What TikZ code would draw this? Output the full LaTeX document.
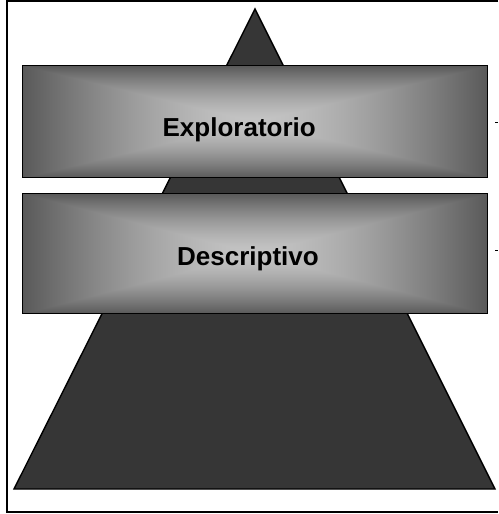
\documentclass[tikz,border=0pt]{standalone}
\usepackage{fontspec}
\setsansfont{Liberation Sans}
\usetikzlibrary{positioning}
\definecolor{pyramid}{rgb}{0.21, 0.21, 0.21}
\pgfdeclarefunctionalshading{barshade}{\pgfpoint{-50bp}{-50bp}}{\pgfpoint{50bp}{50bp}}{}{
  abs 25 div exch abs 25 div
  2 copy lt {exch} if pop
  dup 1 gt {pop 1} if
  dup sqrt mul
  0.42 mul 0.77 exch sub dup dup
}

\begin{document}
\begin{tikzpicture}[x=1pt, y=-1pt,
		frame/.style={line width=1.4pt},
		pyramidShape/.style={fill=pyramid, draw=black, line width=1.4pt},
		bar/.style={draw=black, line width=1.4pt, shade, shading=barshade, minimum width=465pt, inner sep=0pt},
		barText/.style={font=\sffamily\bfseries\fontsize{26}{30}\selectfont, inner sep=0pt},
		tick/.style={line width=1pt}]
		
		\useasboundingbox (0,0) rectangle (498,514);
		
		\coordinate (apex) at (255, 9);
		\coordinate (baseL) at (14, 489);
		\coordinate (baseR) at (495, 489);
		
		% frame, open on the right
		\draw [frame] (498, 1) -- (7, 1) -- (7, 512) -- (498, 512);
		
		\draw [pyramidShape] (apex) -- (baseR) -- (baseL) -- cycle;
		
		\node [bar, minimum height=112pt] (explor) at (255.2, 121.7) {};
		\node [bar, minimum height=120pt] (descr) at (255.2, 253.5) {};
		
		\node [barText, anchor=base] (explorText) at (239.2, 136.5) {Exploratorio};
		\node [barText, anchor=base] (descrText) at (248, 265) {Descriptivo};
		
		\draw [tick] (495, 122) -- (498, 122);
		\draw [tick] (495, 250) -- (498, 250);
	\end{tikzpicture}
\end{document}
